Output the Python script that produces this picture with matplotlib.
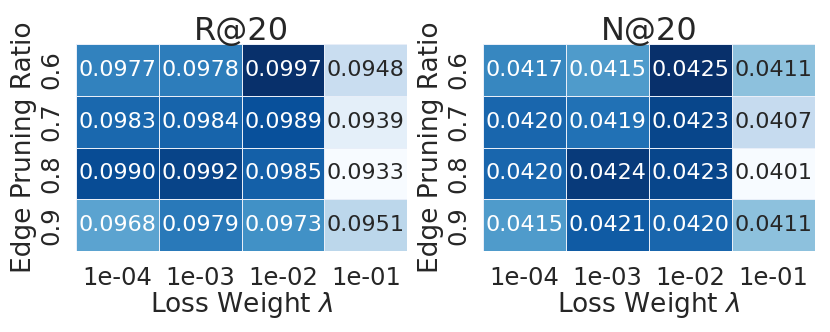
import matplotlib.pyplot as plt
import numpy as np
import seaborn as sns

sns.set_theme(style="white")
plt.rcParams['font.family'] = ['DejaVu Sans']
plt.rcParams['text.color'] = '#262626'

loss_weights = ["1e-04", "1e-03", "1e-02", "1e-01"]
prune_ratios = ["0.6", "0.7", "0.8", "0.9"]

recall = np.array([
    [0.0977, 0.0978, 0.0997, 0.0948],
    [0.0983, 0.0984, 0.0989, 0.0939],
    [0.0990, 0.0992, 0.0985, 0.0933],
    [0.0968, 0.0979, 0.0973, 0.0951],
])
ndcg = np.array([
    [0.0417, 0.0415, 0.0425, 0.0411],
    [0.0420, 0.0419, 0.0423, 0.0407],
    [0.0420, 0.0424, 0.0423, 0.0401],
    [0.0415, 0.0421, 0.0420, 0.0411],
])

fig = plt.figure(figsize=(8.3, 3.32), dpi=100)
ax1 = fig.add_axes([0.0916, 0.244, 0.399, 0.623])
ax2 = fig.add_axes([0.582, 0.244, 0.400, 0.623])

for ax, data, title in [(ax1, recall, "R@20"), (ax2, ndcg, "N@20")]:
    sns.heatmap(data, ax=ax, cmap="Blues", annot=True, fmt=".4f", cbar=False,
                linewidths=0.5, linecolor="#e8eef8",
                annot_kws={"size": 16},
                xticklabels=loss_weights, yticklabels=prune_ratios)
    ax.set_title(title, fontsize=23, pad=3)
    ax.set_xlabel(r"Loss Weight $\lambda$", fontsize=19, labelpad=0)
    ax.set_ylabel("Edge Pruning Ratio", fontsize=19, labelpad=2)
    ax.tick_params(axis='x', labelsize=17.5, rotation=0, pad=5)
    ax.tick_params(axis='y', labelsize=17.5, rotation=90, pad=3)
    for lab in ax.get_yticklabels():
        lab.set_va('center')

plt.savefig("out.png", dpi=100)
